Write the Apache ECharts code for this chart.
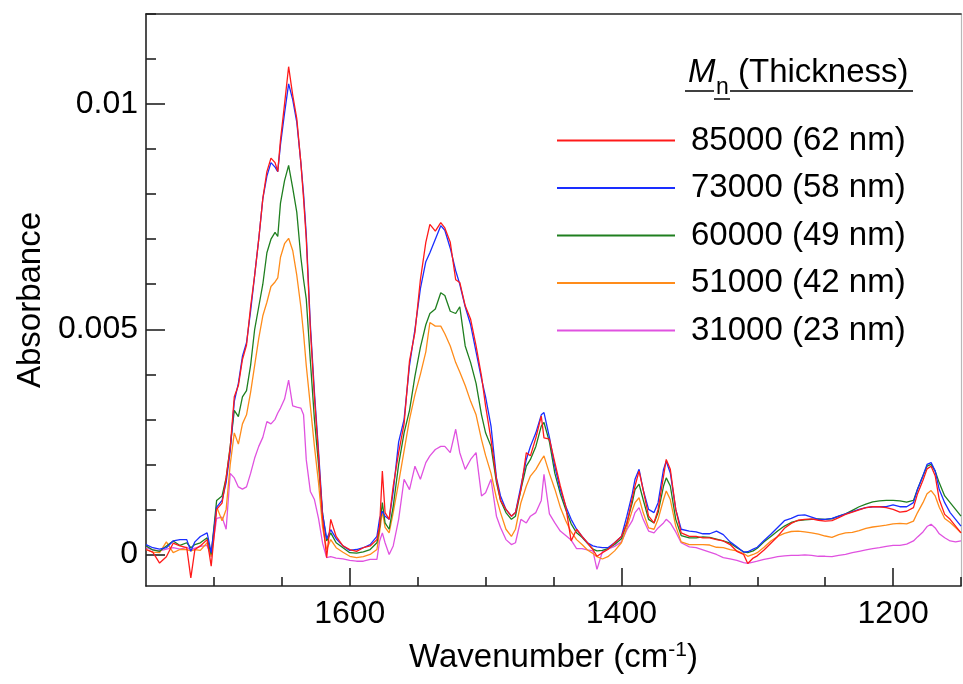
<!DOCTYPE html>
<html><head><meta charset="utf-8">
<script src="https://cdn.jsdelivr.net/npm/echarts@6/dist/echarts.min.js"></script>
<style>html,body{margin:0;padding:0;background:#fff}#c{width:963px;height:684px}</style>
</head><body><div id="c"></div>
<script>
// Wavenumber (cm-1) sample positions
const wavenumber = [1750,1745,1740,1735,1730,1725,1720,1717,1714,1710,
 1705,1702,1698,1694,1691,1688,1685,1682,1679,1676,
 1673,1670,1667,1664,1661,1658,1655,1653,1651,1648,
 1645,1642,1639,1636,1634,1632,1629,1626,1623,1620,
 1617,1614,1610,1605,1600,1595,1590,1585,1580,1578,
 1576,1574,1571,1568,1564,1560,1556,1552,1548,1544,
 1541,1537,1533,1530,1526,1522,1519,1515,1511,1507,
 1503,1500,1496,1492,1489,1485,1481,1478,1474,1470,
 1467,1463,1459,1457,1453,1449,1445,1441,1437,1433,
 1429,1425,1421,1418,1414,1410,1405,1400,1396,1392,
 1390,1387,1384,1380,1376,1373,1369,1367,1364,1360,
 1356,1350,1345,1340,1335,1330,1325,1320,1315,1310,
 1307,1303,1300,1295,1290,1285,1280,1275,1270,1265,
 1260,1255,1250,1245,1240,1235,1230,1225,1220,1215,
 1210,1205,1200,1195,1190,1185,1182,1178,1175,1172,
 1169,1166,1162,1158,1154,1150];

// Absorbance values in units of 1e-4
const mn85000 = [1.1,0.5,-1.9,-0.5,2.5,1.9,1.5,-5.2,1.1,1.9,
 3.3,-2.6,10,11.4,17,23.7,35,37.5,43.3,46.5,
 55,62,70,79,85,88,87,85,92,100,
 108.3,102,96.8,87,79,70,50,35,22,8,
 -0.7,7.8,4,1.9,1.1,0.7,1.5,1.9,3.3,6.3,
 18.5,9.3,7.8,15.2,22.6,29,43,49.3,61,69.3,
 73.3,71.8,73.7,72.5,69.3,61,60.4,55.2,52.2,46.3,
 39.6,33,25.5,16.7,12,10,8.5,9.3,14.4,22.6,
 21.9,25.9,30.7,25.9,25.6,20.4,15.2,10.7,3,5.6,
 4,2.6,1.1,-0.4,0.4,1.1,2.6,4,6.8,12.5,
 15.2,18.5,14.4,8.5,7,10,17.4,21.1,18.9,10,
 4.8,4,4,3.7,3.7,3.3,3.0,2.2,0.7,0.0,
 -2.0,-0.8,-0.3,1.0,2.5,4.0,5.8,6.9,7.6,7.8,
 7.9,7.6,7.4,7.5,8.2,8.9,9.4,9.9,10.4,10.6,
 10.6,10.4,10.0,9.4,9.6,10.4,13.5,16.5,19.0,19.6,
 17.5,12.2,8.9,7.8,6.3,4.8];

const mn73000 = [2.2,1.5,1.2,1.5,3.0,3.3,3.3,0.7,2.8,4.0,
 4.8,0.4,10.5,12,16,23,34,38,44,47,
 54,62,70,79,84,87,86,85,91,98,
 104.5,101,96,87,80,71,51,36,23,9,
 3.5,5.5,3.5,1.9,0.9,1.1,1.5,2.2,4.0,8,
 9.6,8.5,7.8,14,25,30,42,50,59,65,
 67,70,73,72,68,63,60,55,51,45,
 39,35,28.5,17,13,10,8.5,9.3,15.2,21.1,
 24,27,31,31.5,26,19.5,14.4,10.7,7.8,5.6,
 4,2.6,1.9,1.7,1.5,1.5,2.6,4,8.5,13.5,
 16.7,18.9,14.4,10,9.3,11.5,18.9,20.7,18.1,10,
 5.6,5.2,5.0,4.6,4.6,5.2,4.4,2.8,1.7,0.5,
 0.6,1.2,1.6,3.1,4.5,6.0,7.5,8.0,8.7,8.8,
 8.3,7.8,7.8,8.0,8.5,9.0,9.5,10.0,10.4,10.6,
 10.6,10.6,11.0,10.6,10.6,11.5,14.5,17.5,20.0,20.4,
 18.5,14.4,11.5,9.3,7.8,6.3];

const mn60000 = [1.9,1.0,0.7,1.9,3.0,2.0,2.6,1.5,2.2,2.6,
 3.7,0.0,12,13,17,24,32,30.6,35,36.4,
 42,50,55,60,67,70,71.5,70.6,78,83,
 86.4,81.4,76,66,61,56.7,43,30,20,9,
 3.0,4.8,2.6,1.5,0.4,0.3,0.6,1.1,2.6,6,
 11.5,7,5.6,10.7,20,27,32,39.6,46,51,
 53.5,54.5,58.1,57.5,54,53.5,55,46.3,42.6,38,
 31,27,24,16,12,9.3,7.8,8.5,14.4,19.6,
 21.1,24,28.5,29.3,25,18,13.5,10,6.8,4.8,
 3.8,2.5,1.2,0.8,0.9,1.3,2.2,3.5,7,11.5,
 14.4,15.6,12.2,7.8,7,9.3,15.2,17,15.2,7.8,
 4.2,3.7,3.7,3.9,3.8,3.4,3.0,2.5,1.5,0.6,
 0.4,0.8,1.4,2.8,4.0,5.2,6.3,7.1,7.5,7.7,
 7.8,7.9,7.8,7.9,8.5,9.0,9.8,10.6,11.2,11.7,
 11.9,12.0,12.0,11.9,11.6,12.0,14.5,17.5,19.6,20.0,
 18.5,15.9,13.0,11.5,10.0,8.5];

const mn51000 = [1.1,0.5,0.4,2.8,0.4,1.1,1.1,0.8,1.1,0.9,
 2.6,-0.4,10.6,7.5,10,20,27,24.5,29,31,
 36,42,48,53,56,59.5,60.5,61.4,66,69,
 70.2,67.5,62,55,49,41.9,33,24,16,6,
 1.1,3.3,1.5,0.5,-0.4,-0.7,-0.5,0,1.1,5,
 9.6,6,4.8,9.3,16,23,30,35.5,40,45,
 51.5,50.7,50.7,49,46.3,42.6,40.5,37.5,34,31,
 25.5,22,18,12.5,9.3,5.6,4,5.6,11.5,15.2,
 17.4,18.9,21,21.9,18,14.5,10.5,7.5,5,3.3,
 2.2,1.0,0.2,-0.5,-1.0,-0.5,0.8,2.6,6,9.8,
 11.5,12.6,9.3,5.9,5.6,7.8,12.2,14.1,12.2,6.3,
 2.8,2.2,2.2,2.2,2.1,1.6,1.5,1.1,0.8,0.2,
 -0.4,0.0,0.4,1.6,3.0,4.0,4.7,5.1,5.2,5.0,
 4.8,4.5,4.1,3.8,4.4,4.8,4.9,5.3,5.8,6.1,
 6.3,6.5,6.8,6.9,6.8,7.4,9.3,11.5,13.5,14.2,
 13.0,10.5,8.0,7.1,6.0,4.8];

const mn31000 = [1.5,1.0,0.8,1.2,1.5,1.2,1.6,1.0,1.4,1.8,
 2.0,-0.5,8,8.3,5.6,18,17,15,14.5,15,
 18,21.4,24,26,29.5,29,30,31.4,32.5,34.5,
 38.7,33,32.7,32.5,31,21,14,12.2,8,2.5,
 -0.7,-0.5,-0.8,-1.0,-1.3,-1.5,-1.5,-1.1,-1.1,3,
 4.8,2.6,0,1.9,7.8,16.7,14.4,19.6,16.7,20.4,
 21.9,23.3,24,24,22.6,27.8,22.6,18.9,21.1,22.6,
 13,13.7,16.7,8.5,6,3.3,2.2,2.6,7.8,7,
 8.5,9.3,12,17.8,9,7,5.2,4.2,3.2,1.3,
 1.3,1.0,0.8,-3.3,0.6,1.2,1.8,2.8,5.5,7.5,
 9.3,10.4,7.8,5.2,4.8,5.9,7,7.8,7,5,
 2.6,1.7,1.5,1.0,0.5,0,-0.7,-1.0,-1.3,-1.8,
 -2.0,-1.7,-1.5,-1.1,-0.8,-0.5,-0.3,-0.2,-0.2,-0.1,
 -0.2,-0.4,-0.4,-0.5,-0.2,0,0.4,0.7,1.0,1.3,
 1.5,1.8,2.0,2.0,2.3,3.0,3.9,5.0,6.2,6.7,
 5.9,4.6,3.7,3.0,2.8,3.0];

const UNIT = 1e-4;

const seriesNames = ['85000 (62 nm)','73000 (58 nm)','60000 (49 nm)','51000 (42 nm)','31000 (23 nm)'];
const seriesColors = ['#ff1a1a','#1a2eff','#1f7f1f','#ff8c1a','#e052e0'];
const seriesValues = [mn85000, mn73000, mn60000, mn51000, mn31000];

const xLabelValues = [1600, 1400, 1200];
const xMinorValues = [1700, 1650, 1550, 1500, 1450, 1350, 1300, 1250, 1150];
const yLabelValues = [0, 0.005, 0.01];
const yMinorValues = [0.001, 0.002, 0.003, 0.004, 0.006, 0.007, 0.008, 0.009, 0.011, 0.012];

const FONT = '"Liberation Sans", Arial, sans-serif';
const AXC = '#222';

const chart = echarts.init(document.getElementById('c'), null, {renderer: 'canvas'});

// draw magenta first so red ends on top
const order = [4, 3, 2, 1, 0];
const series = order.map(i => ({
  name: seriesNames[i],
  type: 'line',
  symbol: 'none',
  showSymbol: false,
  smooth: false,
  animation: false,
  color: seriesColors[i],
  itemStyle: {color: seriesColors[i]},
  lineStyle: {color: seriesColors[i], width: 1.3},
  data: wavenumber.map((w, k) => [w, seriesValues[i][k] * UNIT])
}));

const xBase = {type: 'value', inverse: true, min: 1150, max: 1750, splitLine: {show: false}};
const yBase = {type: 'value', min: -0.0007, max: 0.012, splitLine: {show: false}};

chart.setOption({
  animation: false,
  backgroundColor: '#fff',
  grid: {left: 146, right: 2, top: 14, bottom: 98, containLabel: false},
  xAxis: [
    Object.assign({}, xBase, {
      position: 'bottom',
      axisLine: {show: true, onZero: false, lineStyle: {color: AXC, width: 1.6}},
      axisTick: {show: true, inside: true, length: 18, customValues: xLabelValues, lineStyle: {color: AXC, width: 1.6}},
      axisLabel: {show: true, customValues: xLabelValues, fontSize: 32, fontFamily: FONT, color: '#000', margin: 12,
        formatter: v => String(v)},
      name: '{t|Wavenumber (cm}{s|-1}{t|)}',
      nameLocation: 'middle',
      nameGap: 54,
      nameTextStyle: {
        rich: {
          t: {fontSize: 33, fontFamily: FONT, color: '#000', lineHeight: 36},
          s: {fontSize: 21, fontFamily: FONT, color: '#000', verticalAlign: 'top', lineHeight: 36}
        }
      }
    }),
    Object.assign({}, xBase, {
      position: 'bottom',
      axisLine: {show: false, onZero: false},
      axisTick: {show: true, inside: true, length: 9, customValues: xMinorValues, lineStyle: {color: AXC, width: 1.6}},
      axisLabel: {show: false}
    }),
    Object.assign({}, xBase, {
      position: 'top',
      axisLine: {show: true, onZero: false, lineStyle: {color: AXC, width: 1.6}},
      axisTick: {show: false},
      axisLabel: {show: false}
    })
  ],
  yAxis: [
    Object.assign({}, yBase, {
      position: 'left',
      axisLine: {show: true, onZero: false, lineStyle: {color: AXC, width: 1.6}},
      axisTick: {show: true, inside: true, length: 19, customValues: yLabelValues, lineStyle: {color: AXC, width: 1.6}},
      axisLabel: {show: true, customValues: yLabelValues, fontSize: 32, fontFamily: FONT, color: '#000', margin: 8,
        formatter: v => String(v)},
      name: 'Absorbance',
      nameLocation: 'middle',
      nameRotate: 90,
      nameGap: 88,
      nameTextStyle: {fontSize: 33, fontFamily: FONT, color: '#000'}
    }),
    Object.assign({}, yBase, {
      position: 'left',
      axisLine: {show: false, onZero: false},
      axisTick: {show: true, inside: true, length: 10, customValues: yMinorValues, lineStyle: {color: AXC, width: 1.6}},
      axisLabel: {show: false}
    }),
    Object.assign({}, yBase, {
      position: 'right',
      axisLine: {show: true, onZero: false, lineStyle: {color: '#b8b8b8', width: 1.2}},
      axisTick: {show: false},
      axisLabel: {show: false}
    })
  ],
  legend: {
    data: seriesNames,
    orient: 'vertical',
    left: 552,
    top: 119,
    itemWidth: 118,
    itemHeight: 2,
    itemGap: 14.5,
    selectedMode: false,
    icon: 'rect',
    textStyle: {fontSize: 33, lineHeight: 33, fontFamily: FONT, color: '#000', padding: [0, 0, 0, 11]}
  },
  graphic: [
    {type: 'text', left: 688, top: 56, style: {text: 'M', font: 'italic 33px ' + FONT, fill: '#000'}},
    {type: 'text', left: 716, top: 76, style: {text: 'n', font: '23px ' + FONT, fill: '#000'}},
    {type: 'text', left: 738, top: 56, style: {text: '(Thickness)', font: '33px ' + FONT, fill: '#000'}},
    {type: 'line', shape: {x1: 685, y1: 91, x2: 714, y2: 91}, style: {stroke: '#000', lineWidth: 1.5}},
    {type: 'line', shape: {x1: 714, y1: 99, x2: 730, y2: 99}, style: {stroke: '#000', lineWidth: 1.5}},
    {type: 'line', shape: {x1: 730, y1: 91, x2: 913, y2: 91}, style: {stroke: '#000', lineWidth: 1.5}}
  ],
  series: series
});
</script>
</body></html>
